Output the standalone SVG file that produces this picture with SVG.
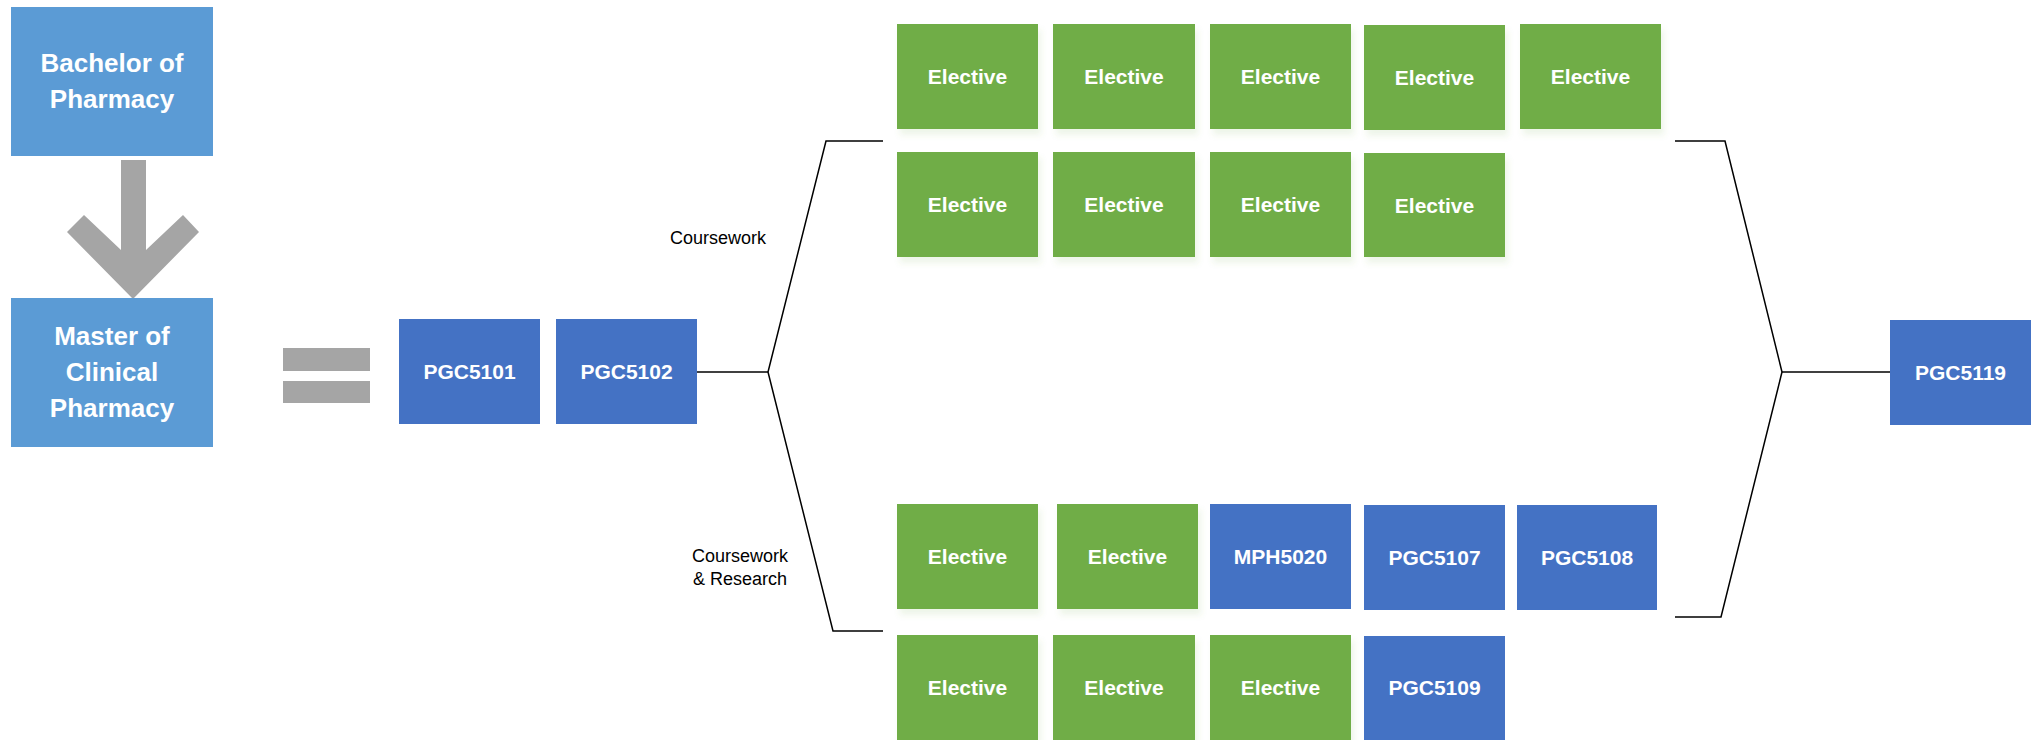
<svg xmlns="http://www.w3.org/2000/svg" width="2040" height="740" viewBox="0 0 2040 740">
<defs>
<filter id="sh" x="-10%" y="-10%" width="130%" height="130%">
<feDropShadow dx="3" dy="6" stdDeviation="3" flood-color="#70AD47" flood-opacity="0.12"/>
</filter>
</defs>
<style>
.deg{fill:#5B9BD5}
.core{fill:#4472C4}
.el{fill:#70AD47;filter:url(#sh)}
.gray{fill:#A5A5A5}
.t{font-family:"Liberation Sans",Arial,sans-serif;font-weight:bold;fill:#ffffff;text-anchor:middle}
.bt{font-size:21px}
.dt{font-size:26px}
.lbl{font-family:"Liberation Sans",Arial,sans-serif;font-size:18px;fill:#000000;text-anchor:middle}
.ln{fill:none;stroke:#000000;stroke-width:1.5}
</style>
<rect width="2040" height="740" fill="#ffffff"/>

<g id="bachelor">
<rect class="deg" x="11" y="7" width="202" height="149"/>
<text class="t dt" x="112" y="72">Bachelor of</text>
<text class="t dt" x="112" y="108">Pharmacy</text>
</g>
<g id="down-arrow">
<polygon class="gray" points="121,160 146,160 146,250 183,215 199,232 133,299 67,232 84,215 121,250"/>
</g>
<g id="master">
<rect class="deg" x="11" y="298" width="202" height="149"/>
<text class="t dt" x="112" y="345">Master of</text>
<text class="t dt" x="112" y="381">Clinical</text>
<text class="t dt" x="112" y="417">Pharmacy</text>
</g>
<g id="equals">
<rect class="gray" x="283" y="348" width="87" height="23"/>
<rect class="gray" x="283" y="381" width="87" height="22"/>
</g>

<g id="pgc5101"><rect class="core" x="399" y="319" width="141" height="105"/><text class="t bt" x="469.5" y="379">PGC5101</text></g>
<g id="pgc5102"><rect class="core" x="556" y="319" width="141" height="105"/><text class="t bt" x="626.5" y="379">PGC5102</text></g>

<g id="connectors">
<polyline class="ln" points="697,372 768,372"/>
<polyline class="ln" points="883,141 826,141 768,372 833,631 883,631"/>
<polyline class="ln" points="1675,141 1725,141 1782,372 1721,617 1675,617"/>
<polyline class="ln" points="1782,372 1890,372"/>
</g>

<g id="label-coursework"><text class="lbl" x="718" y="244">Coursework</text></g>
<g id="label-research"><text class="lbl" x="740" y="562">Coursework</text><text class="lbl" x="740" y="585">&amp; Research</text></g>

<g id="c-r1-1"><rect class="el" x="897" y="24" width="141" height="105"/><text class="t bt" x="967.5" y="84">Elective</text></g>
<g id="c-r1-2"><rect class="el" x="1053" y="24" width="142" height="105"/><text class="t bt" x="1124" y="84">Elective</text></g>
<g id="c-r1-3"><rect class="el" x="1210" y="24" width="141" height="105"/><text class="t bt" x="1280.5" y="84">Elective</text></g>
<g id="c-r1-4"><rect class="el" x="1364" y="25" width="141" height="105"/><text class="t bt" x="1434.5" y="85">Elective</text></g>
<g id="c-r1-5"><rect class="el" x="1520" y="24" width="141" height="105"/><text class="t bt" x="1590.5" y="84">Elective</text></g>

<g id="c-r2-1"><rect class="el" x="897" y="152" width="141" height="105"/><text class="t bt" x="967.5" y="212">Elective</text></g>
<g id="c-r2-2"><rect class="el" x="1053" y="152" width="142" height="105"/><text class="t bt" x="1124" y="212">Elective</text></g>
<g id="c-r2-3"><rect class="el" x="1210" y="152" width="141" height="105"/><text class="t bt" x="1280.5" y="212">Elective</text></g>
<g id="c-r2-4"><rect class="el" x="1364" y="153" width="141" height="104"/><text class="t bt" x="1434.5" y="213">Elective</text></g>

<g id="r-r1-1"><rect class="el" x="897" y="504" width="141" height="105"/><text class="t bt" x="967.5" y="564">Elective</text></g>
<g id="r-r1-2"><rect class="el" x="1057" y="504" width="141" height="105"/><text class="t bt" x="1127.5" y="564">Elective</text></g>
<g id="mph5020"><rect class="core" x="1210" y="504" width="141" height="105"/><text class="t bt" x="1280.5" y="564">MPH5020</text></g>
<g id="pgc5107"><rect class="core" x="1364" y="505" width="141" height="105"/><text class="t bt" x="1434.5" y="565">PGC5107</text></g>
<g id="pgc5108"><rect class="core" x="1517" y="505" width="140" height="105"/><text class="t bt" x="1587" y="565">PGC5108</text></g>

<g id="r-r2-1"><rect class="el" x="897" y="635" width="141" height="105"/><text class="t bt" x="967.5" y="695">Elective</text></g>
<g id="r-r2-2"><rect class="el" x="1053" y="635" width="142" height="105"/><text class="t bt" x="1124" y="695">Elective</text></g>
<g id="r-r2-3"><rect class="el" x="1210" y="635" width="141" height="105"/><text class="t bt" x="1280.5" y="695">Elective</text></g>
<g id="pgc5109"><rect class="core" x="1364" y="636" width="141" height="104"/><text class="t bt" x="1434.5" y="695">PGC5109</text></g>

<g id="pgc5119"><rect class="core" x="1890" y="320" width="141" height="105"/><text class="t bt" x="1960.5" y="380">PGC5119</text></g>
</svg>
